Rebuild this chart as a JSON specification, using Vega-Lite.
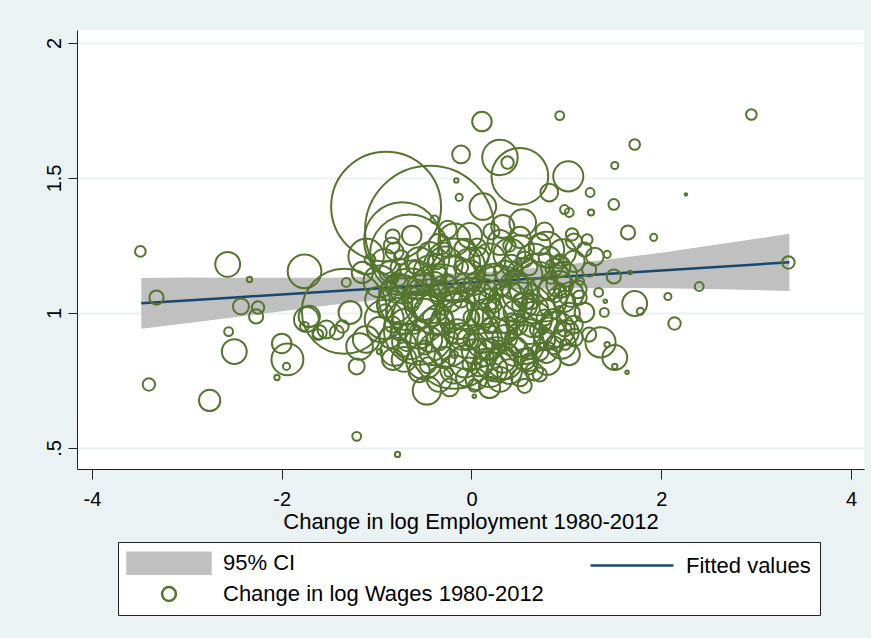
{
  "$schema": "https://vega.github.io/schema/vega-lite/v6.json",
  "width": 787,
  "height": 439,
  "autosize": {"type": "none"},
  "padding": {"left": 77, "top": 30, "right": 7, "bottom": 169},
  "background": "#EAF2F3",
  "view": {"fill": "white", "stroke": null},
  "config": {
    "font": "Liberation Sans",
    "axis": {
      "labelFont": "Liberation Sans", "titleFont": "Liberation Sans",
      "labelColor": "#000", "titleColor": "#000", "titleFontWeight": "normal",
      "domainColor": "#222", "tickColor": "#222", "domainWidth": 1, "tickWidth": 1,
      "labelFontSize": 20, "titleFontSize": 22, "labelOverlap": false, "labelFlush": false
    },
    "legend": {
      "labelFont": "Liberation Sans", "labelFontSize": 22, "labelColor": "#000", "labelLimit": 600
    }
  },
  "datasets": {
    "ci": [
      {"x": -3.48, "fit": 1.0357, "lo": 0.9417, "hi": 1.1297},
      {"x": -3.0, "fit": 1.0464, "lo": 0.9614, "hi": 1.1314},
      {"x": -2.5, "fit": 1.0575, "lo": 0.9845, "hi": 1.1305},
      {"x": -2.0, "fit": 1.0686, "lo": 1.0066, "hi": 1.1306},
      {"x": -1.5, "fit": 1.0797, "lo": 1.0287, "hi": 1.1307},
      {"x": -1.0, "fit": 1.0908, "lo": 1.0478, "hi": 1.1338},
      {"x": -0.5, "fit": 1.1019, "lo": 1.0649, "hi": 1.1389},
      {"x": 0.0, "fit": 1.113, "lo": 1.078, "hi": 1.148},
      {"x": 0.5, "fit": 1.1241, "lo": 1.0871, "hi": 1.1611},
      {"x": 1.0, "fit": 1.1352, "lo": 1.0912, "hi": 1.1792},
      {"x": 1.5, "fit": 1.1463, "lo": 1.0923, "hi": 1.2003},
      {"x": 2.0, "fit": 1.1574, "lo": 1.0914, "hi": 1.2234},
      {"x": 2.5, "fit": 1.1685, "lo": 1.0885, "hi": 1.2485},
      {"x": 3.0, "fit": 1.1796, "lo": 1.0846, "hi": 1.2746},
      {"x": 3.35, "fit": 1.1874, "lo": 1.0814, "hi": 1.2934}
    ],
    "pts": [
      {"x": -3.49, "y": 1.228, "emp": 36}, {"x": -3.32, "y": 1.057, "emp": 64}, {"x": -3.40, "y": 0.735, "emp": 49},
      {"x": -2.76, "y": 0.676, "emp": 144}, {"x": -2.57, "y": 1.180, "emp": 196}, {"x": -2.34, "y": 1.124, "emp": 9},
      {"x": -2.43, "y": 1.024, "emp": 81}, {"x": -2.25, "y": 1.020, "emp": 49}, {"x": -2.27, "y": 0.987, "emp": 64},
      {"x": -2.56, "y": 0.931, "emp": 25}, {"x": -2.50, "y": 0.857, "emp": 196}, {"x": -1.76, "y": 1.154, "emp": 361},
      {"x": -2.00, "y": 0.887, "emp": 121}, {"x": -1.94, "y": 0.828, "emp": 324}, {"x": -1.95, "y": 0.802, "emp": 16},
      {"x": -2.05, "y": 0.761, "emp": 9}, {"x": -1.74, "y": 0.976, "emp": 196}, {"x": -1.76, "y": 0.950, "emp": 25},
      {"x": -1.62, "y": 0.920, "emp": 36}, {"x": -1.34, "y": 1.006, "emp": 2304}, {"x": -1.71, "y": 0.987, "emp": 144},
      {"x": -1.53, "y": 0.939, "emp": 100}, {"x": -1.42, "y": 0.928, "emp": 64}, {"x": -1.28, "y": 1.002, "emp": 169},
      {"x": -1.32, "y": 1.113, "emp": 25}, {"x": -1.18, "y": 0.876, "emp": 225}, {"x": -1.21, "y": 0.802, "emp": 81},
      {"x": -1.11, "y": 1.209, "emp": 400}, {"x": -0.83, "y": 1.283, "emp": 64}, {"x": -1.15, "y": 1.150, "emp": 144},
      {"x": -1.21, "y": 0.543, "emp": 25}, {"x": -0.78, "y": 0.476, "emp": 9}, {"x": -0.47, "y": 0.713, "emp": 256},
      {"x": 0.03, "y": 0.731, "emp": 49}, {"x": 0.03, "y": 0.691, "emp": 4}, {"x": -0.24, "y": 0.780, "emp": 25},
      {"x": -0.90, "y": 1.394, "emp": 3844}, {"x": -0.44, "y": 1.306, "emp": 5329}, {"x": -0.73, "y": 1.269, "emp": 1849},
      {"x": -0.65, "y": 1.217, "emp": 2025}, {"x": -1.07, "y": 1.198, "emp": 36}, {"x": -0.39, "y": 1.346, "emp": 20},
      {"x": -0.16, "y": 1.491, "emp": 6}, {"x": -0.13, "y": 1.428, "emp": 16}, {"x": -0.11, "y": 1.587, "emp": 100},
      {"x": 0.11, "y": 1.709, "emp": 121}, {"x": 0.93, "y": 1.731, "emp": 25}, {"x": 0.30, "y": 1.576, "emp": 400},
      {"x": 0.38, "y": 1.557, "emp": 49}, {"x": 0.51, "y": 1.506, "emp": 1024}, {"x": 1.02, "y": 1.506, "emp": 289},
      {"x": 0.82, "y": 1.446, "emp": 100}, {"x": 1.25, "y": 1.446, "emp": 25}, {"x": 1.51, "y": 1.546, "emp": 16},
      {"x": 1.72, "y": 1.624, "emp": 36}, {"x": 2.95, "y": 1.735, "emp": 36}, {"x": 2.26, "y": 1.439, "emp": 2},
      {"x": 1.50, "y": 1.402, "emp": 36}, {"x": 0.98, "y": 1.383, "emp": 25}, {"x": 1.03, "y": 1.372, "emp": 25},
      {"x": 1.26, "y": 1.372, "emp": 12}, {"x": 1.65, "y": 1.298, "emp": 64}, {"x": 1.92, "y": 1.280, "emp": 16},
      {"x": 1.06, "y": 1.291, "emp": 49}, {"x": 1.22, "y": 1.272, "emp": 36}, {"x": 1.30, "y": 1.209, "emp": 100},
      {"x": 1.43, "y": 1.217, "emp": 16}, {"x": 1.50, "y": 1.135, "emp": 64}, {"x": 1.67, "y": 1.150, "emp": 4},
      {"x": 1.15, "y": 1.117, "emp": 16}, {"x": 1.34, "y": 1.076, "emp": 25}, {"x": 1.41, "y": 1.043, "emp": 4},
      {"x": 1.72, "y": 1.035, "emp": 196}, {"x": 1.78, "y": 1.006, "emp": 16}, {"x": 2.07, "y": 1.061, "emp": 16},
      {"x": 2.40, "y": 1.098, "emp": 25}, {"x": 3.34, "y": 1.187, "emp": 49}, {"x": 2.14, "y": 0.961, "emp": 49},
      {"x": 1.19, "y": 1.002, "emp": 121}, {"x": 1.40, "y": 1.002, "emp": 25}, {"x": 1.00, "y": 0.928, "emp": 196},
      {"x": 0.99, "y": 0.883, "emp": 36}, {"x": 1.36, "y": 0.891, "emp": 289}, {"x": 1.51, "y": 0.835, "emp": 196},
      {"x": 1.24, "y": 0.920, "emp": 64}, {"x": 1.43, "y": 0.883, "emp": 9}, {"x": 1.51, "y": 0.802, "emp": 9},
      {"x": 1.64, "y": 0.780, "emp": 4}, {"x": 0.12, "y": 1.394, "emp": 225}, {"x": 0.33, "y": 1.320, "emp": 169},
      {"x": 0.54, "y": 1.335, "emp": 225}, {"x": 0.61, "y": 0.817, "emp": 100}, {"x": -0.18, "y": 0.883, "emp": 2500},
      {"x": 0.26, "y": 0.828, "emp": 625},
      {"x": -1.60, "y": 0.928, "emp": 64}, {"x": -1.36, "y": 0.950, "emp": 49}, {"x": -1.11, "y": 0.902, "emp": 225},
      {"x": -0.97, "y": 0.857, "emp": 9}, {"x": -0.83, "y": 0.828, "emp": 144}, {"x": -0.68, "y": 0.891, "emp": 100},
      {"x": -0.55, "y": 0.939, "emp": 1600}, {"x": -0.10, "y": 0.913, "emp": 225}, {"x": 0.19, "y": 0.865, "emp": 144},
      {"x": 0.33, "y": 0.828, "emp": 225}, {"x": 0.54, "y": 0.902, "emp": 400}, {"x": 0.79, "y": 0.854, "emp": 144},
      {"x": 0.66, "y": 0.783, "emp": 100}, {"x": 0.19, "y": 0.791, "emp": 400}, {"x": 0.90, "y": 0.939, "emp": 400},
      {"x": 0.05, "y": 0.754, "emp": 144}, {"x": 0.79, "y": 1.235, "emp": 400}, {"x": 0.96, "y": 1.224, "emp": 225},
      {"x": 0.93, "y": 1.172, "emp": 144},
      {"x": -0.34, "y": 1.254, "emp": 144}, {"x": -0.18, "y": 1.272, "emp": 324}, {"x": 0.06, "y": 1.243, "emp": 100},
      {"x": 0.30, "y": 1.261, "emp": 196}, {"x": 0.51, "y": 1.235, "emp": 256}, {"x": 0.72, "y": 1.254, "emp": 144},
      {"x": -0.92, "y": 1.191, "emp": 196}, {"x": -0.76, "y": 1.169, "emp": 100}, {"x": -0.55, "y": 1.191, "emp": 256},
      {"x": -0.28, "y": 1.180, "emp": 400}, {"x": -0.04, "y": 1.191, "emp": 196}, {"x": 0.19, "y": 1.198, "emp": 324},
      {"x": 0.42, "y": 1.176, "emp": 144}, {"x": 0.66, "y": 1.191, "emp": 400}, {"x": 0.87, "y": 1.169, "emp": 100},
      {"x": 1.08, "y": 1.191, "emp": 144},
      {"x": -0.97, "y": 1.117, "emp": 324}, {"x": -0.78, "y": 1.106, "emp": 144}, {"x": -0.60, "y": 1.124, "emp": 484},
      {"x": -0.39, "y": 1.106, "emp": 196}, {"x": -0.18, "y": 1.124, "emp": 676}, {"x": 0.03, "y": 1.106, "emp": 144},
      {"x": 0.24, "y": 1.117, "emp": 400}, {"x": 0.45, "y": 1.102, "emp": 256}, {"x": 0.70, "y": 1.117, "emp": 484},
      {"x": 0.93, "y": 1.106, "emp": 225}, {"x": 1.12, "y": 1.087, "emp": 100},
      {"x": -0.99, "y": 1.050, "emp": 196}, {"x": -0.81, "y": 1.031, "emp": 400}, {"x": -0.63, "y": 1.057, "emp": 144},
      {"x": -0.44, "y": 1.043, "emp": 625}, {"x": -0.23, "y": 1.050, "emp": 196}, {"x": -0.02, "y": 1.031, "emp": 900},
      {"x": 0.19, "y": 1.050, "emp": 144}, {"x": 0.38, "y": 1.043, "emp": 484}, {"x": 0.56, "y": 1.028, "emp": 196},
      {"x": 0.77, "y": 1.050, "emp": 625}, {"x": 0.98, "y": 1.043, "emp": 144}, {"x": 1.14, "y": 1.057, "emp": 64},
      {"x": -0.92, "y": 0.976, "emp": 484}, {"x": -0.71, "y": 0.969, "emp": 196}, {"x": -0.55, "y": 0.983, "emp": 900},
      {"x": -0.34, "y": 0.957, "emp": 144}, {"x": -0.13, "y": 0.976, "emp": 484}, {"x": 0.08, "y": 0.969, "emp": 196},
      {"x": 0.30, "y": 0.976, "emp": 784}, {"x": 0.48, "y": 0.957, "emp": 144}, {"x": 0.66, "y": 0.976, "emp": 400},
      {"x": 0.87, "y": 0.969, "emp": 196}, {"x": 1.08, "y": 0.957, "emp": 100},
      {"x": -0.86, "y": 0.909, "emp": 144}, {"x": -0.65, "y": 0.894, "emp": 400}, {"x": -0.44, "y": 0.902, "emp": 196},
      {"x": -0.25, "y": 0.883, "emp": 625}, {"x": -0.04, "y": 0.902, "emp": 144}, {"x": 0.14, "y": 0.894, "emp": 400},
      {"x": 0.35, "y": 0.909, "emp": 196}, {"x": 0.56, "y": 0.883, "emp": 484}, {"x": 0.77, "y": 0.902, "emp": 144},
      {"x": 0.95, "y": 0.883, "emp": 256},
      {"x": -0.71, "y": 0.828, "emp": 196}, {"x": -0.50, "y": 0.820, "emp": 400}, {"x": -0.28, "y": 0.835, "emp": 144},
      {"x": -0.07, "y": 0.820, "emp": 324}, {"x": 0.14, "y": 0.835, "emp": 100}, {"x": 0.35, "y": 0.820, "emp": 400},
      {"x": 0.56, "y": 0.828, "emp": 144}, {"x": 0.80, "y": 0.820, "emp": 225},
      {"x": -0.34, "y": 0.754, "emp": 196}, {"x": -0.07, "y": 0.761, "emp": 100}, {"x": 0.30, "y": 0.754, "emp": 196},
      {"x": 0.51, "y": 0.761, "emp": 100},
      {"x": -0.34, "y": 1.050, "emp": 1600}, {"x": 0.30, "y": 1.050, "emp": 1444}, {"x": -0.02, "y": 0.939, "emp": 2025},
      {"x": 0.51, "y": 0.976, "emp": 1764}, {"x": -0.18, "y": 1.161, "emp": 1225}, {"x": -0.65, "y": 1.050, "emp": 1225},
      {"x": 0.72, "y": 1.106, "emp": 1225},
      {"x": -0.50, "y": 1.087, "emp": 16}, {"x": -0.11, "y": 1.087, "emp": 25}, {"x": 0.17, "y": 1.013, "emp": 9},
      {"x": 0.42, "y": 0.920, "emp": 16}, {"x": 0.61, "y": 1.069, "emp": 25}, {"x": -0.28, "y": 0.939, "emp": 9},
      {"x": 0.08, "y": 1.161, "emp": 16}, {"x": 0.35, "y": 1.106, "emp": 9}, {"x": -0.18, "y": 0.846, "emp": 16},
      {"x": -0.60, "y": 0.939, "emp": 25}, {"x": -0.81, "y": 1.124, "emp": 16}, {"x": 0.93, "y": 1.013, "emp": 16},
      {"x": 0.77, "y": 0.939, "emp": 9},
      {"x": -0.81, "y": 1.228, "emp": 100}, {"x": -0.44, "y": 1.217, "emp": 196}, {"x": -0.07, "y": 1.235, "emp": 144},
      {"x": 0.40, "y": 1.217, "emp": 324}, {"x": 0.82, "y": 1.206, "emp": 144}, {"x": 1.19, "y": 1.235, "emp": 64},
      {"x": -0.86, "y": 1.154, "emp": 144}, {"x": -0.44, "y": 1.154, "emp": 324}, {"x": -0.02, "y": 1.143, "emp": 256},
      {"x": 0.35, "y": 1.154, "emp": 144}, {"x": 0.56, "y": 1.139, "emp": 400}, {"x": 0.98, "y": 1.143, "emp": 196},
      {"x": 1.24, "y": 1.161, "emp": 64},
      {"x": -0.88, "y": 1.080, "emp": 100}, {"x": -0.71, "y": 1.087, "emp": 256}, {"x": -0.28, "y": 1.080, "emp": 324},
      {"x": 0.14, "y": 1.080, "emp": 196}, {"x": 0.51, "y": 1.072, "emp": 400}, {"x": 0.82, "y": 1.087, "emp": 144},
      {"x": 1.05, "y": 1.069, "emp": 196},
      {"x": -0.76, "y": 1.006, "emp": 225}, {"x": -0.49, "y": 1.013, "emp": 144}, {"x": -0.18, "y": 1.006, "emp": 400},
      {"x": 0.14, "y": 0.998, "emp": 256}, {"x": 0.45, "y": 1.006, "emp": 144}, {"x": 0.66, "y": 1.013, "emp": 256},
      {"x": 1.03, "y": 0.998, "emp": 144},
      {"x": -0.97, "y": 0.939, "emp": 196}, {"x": -0.76, "y": 0.931, "emp": 100}, {"x": -0.55, "y": 0.920, "emp": 256},
      {"x": -0.15, "y": 0.931, "emp": 196}, {"x": 0.24, "y": 0.924, "emp": 324}, {"x": 0.61, "y": 0.931, "emp": 196},
      {"x": 0.82, "y": 0.924, "emp": 324}, {"x": 1.08, "y": 0.909, "emp": 100},
      {"x": -0.81, "y": 0.857, "emp": 256}, {"x": -0.39, "y": 0.865, "emp": 324}, {"x": 0.03, "y": 0.857, "emp": 196},
      {"x": 0.45, "y": 0.857, "emp": 256}, {"x": 0.72, "y": 0.857, "emp": 100}, {"x": 1.03, "y": 0.846, "emp": 144},
      {"x": -0.55, "y": 0.783, "emp": 144}, {"x": -0.18, "y": 0.791, "emp": 256}, {"x": 0.40, "y": 0.783, "emp": 196},
      {"x": 0.72, "y": 0.772, "emp": 64}, {"x": 0.08, "y": 0.798, "emp": 100},
      {"x": -0.23, "y": 0.724, "emp": 100}, {"x": 0.19, "y": 0.724, "emp": 144}, {"x": 0.56, "y": 0.730, "emp": 64},
      {"x": -0.84, "y": 1.250, "emp": 81}, {"x": -0.63, "y": 1.287, "emp": 121}, {"x": -0.25, "y": 1.309, "emp": 100},
      {"x": -0.02, "y": 1.287, "emp": 196}, {"x": 0.21, "y": 1.302, "emp": 81}, {"x": 0.51, "y": 1.280, "emp": 144},
      {"x": 0.77, "y": 1.302, "emp": 100}, {"x": 1.08, "y": 1.265, "emp": 81},
      {"x": -0.74, "y": 1.206, "emp": 64}, {"x": -0.37, "y": 1.191, "emp": 81}, {"x": 0.08, "y": 1.206, "emp": 121},
      {"x": 0.56, "y": 1.198, "emp": 81}, {"x": 0.93, "y": 1.191, "emp": 64},
      {"x": -0.91, "y": 1.006, "emp": 64}, {"x": -0.57, "y": 1.094, "emp": 81}, {"x": -0.25, "y": 1.117, "emp": 64},
      {"x": 0.06, "y": 1.065, "emp": 100}, {"x": 0.32, "y": 1.087, "emp": 64}, {"x": 0.63, "y": 1.043, "emp": 81},
      {"x": 0.88, "y": 1.065, "emp": 64},
      {"x": -0.83, "y": 0.957, "emp": 81}, {"x": -0.42, "y": 0.983, "emp": 100}, {"x": 0.00, "y": 0.983, "emp": 81},
      {"x": 0.38, "y": 0.954, "emp": 100}, {"x": 0.77, "y": 0.983, "emp": 81}, {"x": 0.98, "y": 0.939, "emp": 64},
      {"x": -0.71, "y": 0.865, "emp": 64}, {"x": -0.34, "y": 0.891, "emp": 81}, {"x": 0.08, "y": 0.880, "emp": 64},
      {"x": 0.48, "y": 0.880, "emp": 81}, {"x": 0.87, "y": 0.880, "emp": 100},
      {"x": -0.46, "y": 0.806, "emp": 81}, {"x": -0.02, "y": 0.809, "emp": 64}, {"x": 0.24, "y": 0.783, "emp": 81},
      {"x": 0.61, "y": 0.802, "emp": 81},
      {"x": -0.60, "y": 1.169, "emp": 49}, {"x": -0.34, "y": 1.143, "emp": 81}, {"x": -0.11, "y": 1.169, "emp": 64},
      {"x": 0.17, "y": 1.143, "emp": 100}, {"x": 0.42, "y": 1.124, "emp": 49}, {"x": 0.61, "y": 1.169, "emp": 81},
      {"x": 0.84, "y": 1.131, "emp": 49},
      {"x": -0.63, "y": 1.031, "emp": 64}, {"x": -0.37, "y": 1.065, "emp": 49}, {"x": -0.11, "y": 1.050, "emp": 81},
      {"x": 0.24, "y": 1.028, "emp": 64}, {"x": 0.51, "y": 1.050, "emp": 49}, {"x": 0.80, "y": 1.020, "emp": 81},
      {"x": -0.55, "y": 0.957, "emp": 49}, {"x": -0.28, "y": 0.983, "emp": 81}, {"x": -0.02, "y": 0.902, "emp": 49},
      {"x": 0.19, "y": 0.954, "emp": 81}, {"x": 0.42, "y": 0.976, "emp": 49}, {"x": 0.69, "y": 0.939, "emp": 64},
      {"x": -0.49, "y": 0.872, "emp": 64}, {"x": -0.21, "y": 0.909, "emp": 49}, {"x": 0.29, "y": 0.872, "emp": 64},
      {"x": 0.59, "y": 0.850, "emp": 49},
      {"x": -0.76, "y": 1.124, "emp": 49}, {"x": 0.93, "y": 1.087, "emp": 49}, {"x": -0.28, "y": 1.235, "emp": 64},
      {"x": 0.40, "y": 1.250, "emp": 49}
    ]
  },
  "encoding": {
    "x": {
      "field": "x", "type": "quantitative",
      "scale": {"domain": [-4.158, 4.137], "nice": false, "zero": false},
      "axis": {
        "title": "Change in log Employment 1980-2012",
        "values": [-4, -2, 0, 2, 4], "grid": false, "tickSize": 10,
        "labelExpr": "datum.value < 0 ? '-' + abs(datum.value) : '' + datum.value",
        "labelBaseline": "alphabetic", "labelPadding": 26,
        "titleBaseline": "alphabetic", "titleY": 59
      }
    }
  },
  "layer": [
    {
      "data": {"name": "ci"},
      "mark": {"type": "area"},
      "encoding": {
        "y": {
          "field": "lo", "type": "quantitative",
          "scale": {"domain": [0.422, 2.048], "nice": false, "zero": false},
          "axis": {
            "title": null, "values": [0.5, 1, 1.5, 2],
            "labelExpr": "datum.value == 0.5 ? '.5' : datum.value == 1 ? '1' : datum.value == 2 ? '2' : '1.5'",
            "grid": true, "gridColor": "#EAF2F3", "gridWidth": 2,
            "tickSize": 9, "labelAngle": 270, "labelAlign": "center",
            "labelBaseline": "alphabetic", "labelPadding": 8
          }
        },
        "y2": {"field": "hi"},
        "color": {
          "datum": "95% CI",
          "scale": {
            "domain": ["95% CI", "Fitted values", "Change in log Wages 1980-2012"],
            "range": ["#C0C0C0", "#1A476F", "#55752F"]
          },
          "legend": {
            "title": null, "orient": "none", "legendX": 41, "legendY": 512,
            "direction": "horizontal",
            "values": ["95% CI", "Fitted values", "Change in log Wages 1980-2012"],
            "columns": 2, "columnPadding": 41, "rowPadding": 3, "padding": 9,
            "fillColor": "white", "strokeColor": "#222",
            "symbolOffset": 30, "labelOffset": 42, "symbolSize": 441, "symbolStrokeWidth": 2.5,
            "encode": {
              "symbols": {
                "update": {
                  "shape": {"signal": "datum.value === '95% CI' ? 'M-3.95,-1H3.95V1H-3.95Z' : datum.value === 'Fitted values' ? 'M-3.95,0H3.95' : 'M-0.66,0A0.66,0.66,0,1,1,0.66,0A0.66,0.66,0,1,1,-0.66,0A0.66,0.66,0,1,0,0.66,0A0.66,0.66,0,1,0,-0.66,0Z'"},
                  "fill": {"signal": "datum.value === '95% CI' ? '#C0C0C0' : 'transparent'"},
                  "stroke": {"signal": "datum.value === '95% CI' ? 'transparent' : datum.value === 'Fitted values' ? '#1A476F' : '#55752F'"}
                }
              }
            }
          }
        }
      }
    },
    {
      "data": {"name": "ci"},
      "mark": {"type": "line", "strokeWidth": 2.5},
      "encoding": {
        "y": {"field": "fit", "type": "quantitative"},
        "color": {"datum": "Fitted values"}
      }
    },
    {
      "data": {"name": "pts"},
      "mark": {"type": "point", "filled": false, "strokeWidth": 2, "opacity": 1},
      "encoding": {
        "y": {"field": "y", "type": "quantitative"},
        "size": {
          "field": "emp", "type": "quantitative",
          "scale": {"type": "linear", "domain": [0, 100], "range": [0, 314.16], "zero": true},
          "legend": null
        },
        "color": {"datum": "Change in log Wages 1980-2012"}
      }
    }
  ]
}
